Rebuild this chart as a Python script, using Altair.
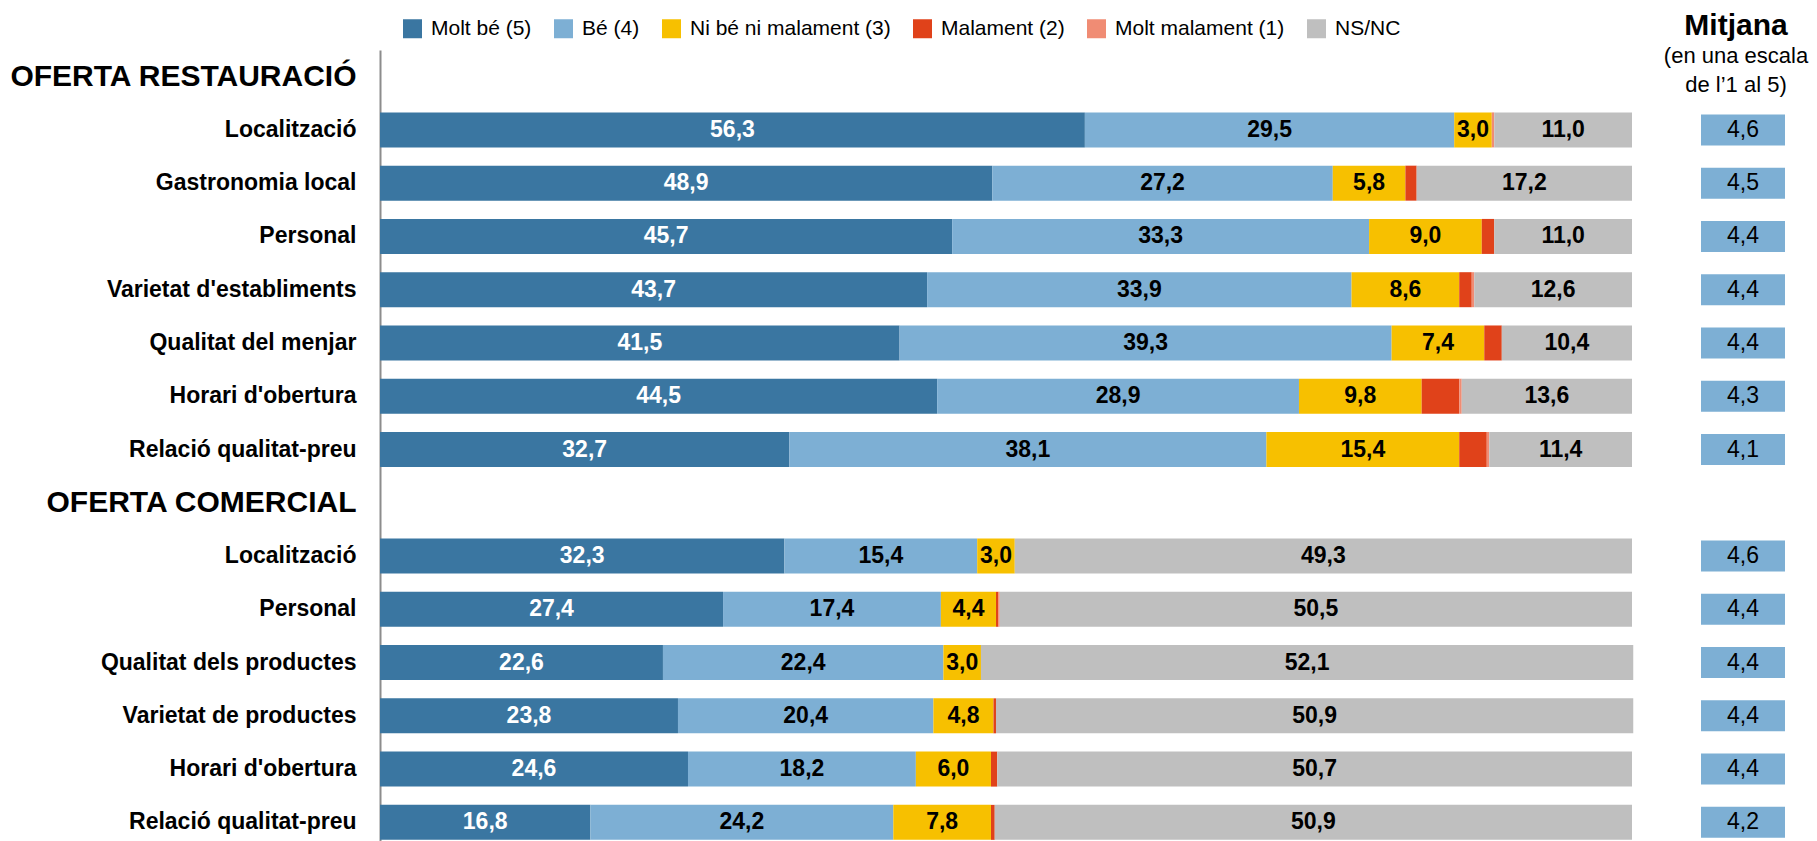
import altair as alt
import pandas as pd

FONT = "Liberation Sans"

categories = ["Molt bé (5)", "Bé (4)", "Ni bé ni malament (3)", "Malament (2)", "Molt malament (1)", "NS/NC"]
colors = ["#3A76A1", "#7DAFD4", "#F7C000", "#E0421A", "#F08C74", "#BFBFBF"]
labelled = ["Molt bé (5)", "Bé (4)", "Ni bé ni malament (3)", "NS/NC"]

sections = ["OFERTA RESTAURACIÓ", "OFERTA COMERCIAL"]
rest_items = ["Localització", "Gastronomia local", "Personal", "Varietat d'establiments",
              "Qualitat del menjar", "Horari d'obertura", "Relació qualitat-preu"]
com_items = ["Localització", "Personal", "Qualitat dels productes", "Varietat de productes",
             "Horari d'obertura", "Relació qualitat-preu"]

molt_be = [56.3, 48.9, 45.7, 43.7, 41.5, 44.5, 32.7, 32.3, 27.4, 22.6, 23.8, 24.6, 16.8]
be = [29.5, 27.2, 33.3, 33.9, 39.3, 28.9, 38.1, 15.4, 17.4, 22.4, 20.4, 18.2, 24.2]
ni_be = [3.0, 5.8, 9.0, 8.6, 7.4, 9.8, 15.4, 3.0, 4.4, 3.0, 4.8, 6.0, 7.8]
malament = [0.0, 0.9, 1.0, 1.0, 1.4, 3.0, 2.2, 0.0, 0.2, 0.0, 0.2, 0.5, 0.3]
molt_malament = [0.2, 0.0, 0.0, 0.2, 0.0, 0.2, 0.2, 0.0, 0.1, 0.0, 0.0, 0.0, 0.0]
nsnc = [11.0, 17.2, 11.0, 12.6, 10.4, 13.6, 11.4, 49.3, 50.5, 52.1, 50.9, 50.7, 50.9]
mitjana = [4.6, 4.5, 4.4, 4.4, 4.4, 4.3, 4.1, 4.6, 4.4, 4.4, 4.4, 4.4, 4.2]

title_main = "Mitjana"
title_sub = ["(en una escala", "de l’1 al 5)"]

# ---- build unique row keys (section headings are empty rows) ----
keys = []
item_keys = []
n = 0
for sec, items in zip(sections, [rest_items, com_items]):
    keys.append(f"{n:02d}|{sec}")
    n += 1
    for it in items:
        k = f"{n:02d}|{it}"
        keys.append(k)
        item_keys.append(k)
        n += 1

series = [molt_be, be, ni_be, malament, molt_malament, nsnc]
rows = []
for i, k in enumerate(item_keys):
    for j, cat in enumerate(categories):
        rows.append({"key": k, "cat": cat, "idx": j, "value": series[j][i]})
df = pd.DataFrame(rows)
dm = pd.DataFrame({"key": item_keys, "mitjana": mitjana})

yenc = alt.Y("key:N", sort=keys, scale=alt.Scale(domain=keys),
             axis=alt.Axis(title=None,
                           labelExpr="split(datum.value, '|')[1]",
                           labelFontSize={"expr": "indexof(datum.value, 'OFERTA') >= 0 ? 30 : 23"},
                           labelFontWeight="bold", labelColor="black", labelPadding=24,
                           labelLimit=500, ticks=False, grid=False,
                           domainColor="#8C8C8C", domainWidth=2))

base = alt.Chart(df).transform_stack(
    stack="value", groupby=["key"], as_=["v0", "v1"],
    sort=[alt.SortField("idx", order="ascending")]
).transform_calculate(
    mid="(datum.v0 + datum.v1) / 2",
    lbl="replace(format(datum.value, '.1f'), '.', ',')"
)

xscale = alt.Scale(domain=[0, 100], nice=False, zero=True)

bars = base.mark_bar(size=35).encode(
    y=yenc,
    x=alt.X("v0:Q", scale=xscale, axis=None),
    x2="v1:Q",
    color=alt.Color("cat:N", scale=alt.Scale(domain=categories, range=colors),
                    legend=alt.Legend(orient="none", legendX=22, legendY=-32,
                                      direction="horizontal", columns=6, title=None,
                                      symbolType="square", symbolSize=361,
                                      symbolStrokeWidth=0, labelFontSize=21,
                                      labelOffset=8, columnPadding=21, padding=0,
                                      labelLimit=400, labelColor="black")),
)

texts = base.transform_filter(
    alt.FieldOneOfPredicate(field="cat", oneOf=labelled)
).mark_text(fontSize=23, fontWeight="bold", baseline="middle", align="center").encode(
    y=alt.Y("key:N", sort=keys),
    x=alt.X("mid:Q", scale=xscale),
    text="lbl:N",
    color=alt.condition(alt.datum.cat == categories[0], alt.value("white"), alt.value("black")),
)

mbase = alt.Chart(dm).transform_calculate(
    lbl="replace(format(datum.mitjana, '.1f'), '.', ',')"
)
mboxes = mbase.mark_bar(size=31, color="#7DAFD4").encode(
    y=alt.Y("key:N", sort=keys),
    x=alt.value(1321), x2=alt.value(1405),
)
mtext = mbase.mark_text(fontSize=23, baseline="middle", align="center", color="black").encode(
    y=alt.Y("key:N", sort=keys),
    x=alt.value(1363),
    text="lbl:N",
)

t1 = alt.Chart(pd.DataFrame({"t": [title_main]})).mark_text(
    fontSize=30, fontWeight="bold", align="center", baseline="alphabetic", color="black"
).encode(text="t:N", x=alt.value(1356), y=alt.value(-15))
t2 = alt.Chart(pd.DataFrame({"t": [title_sub[0]]})).mark_text(
    fontSize=22, align="center", baseline="alphabetic", color="black"
).encode(text="t:N", x=alt.value(1356), y=alt.value(13))
t3 = alt.Chart(pd.DataFrame({"t": [title_sub[1]]})).mark_text(
    fontSize=22, align="center", baseline="alphabetic", color="black"
).encode(text="t:N", x=alt.value(1356), y=alt.value(42))

chart = alt.layer(bars, texts, mboxes, mtext, t1, t2, t3).properties(
    width=1252, height=799,
    padding={"left": 372, "top": 42, "right": 177, "bottom": 0},
    autosize=alt.AutoSizeParams(type="none"),
).configure(font=FONT).configure_view(stroke=None)

chart.save("out.html", embed_options={"renderer": "svg", "actions": False})
